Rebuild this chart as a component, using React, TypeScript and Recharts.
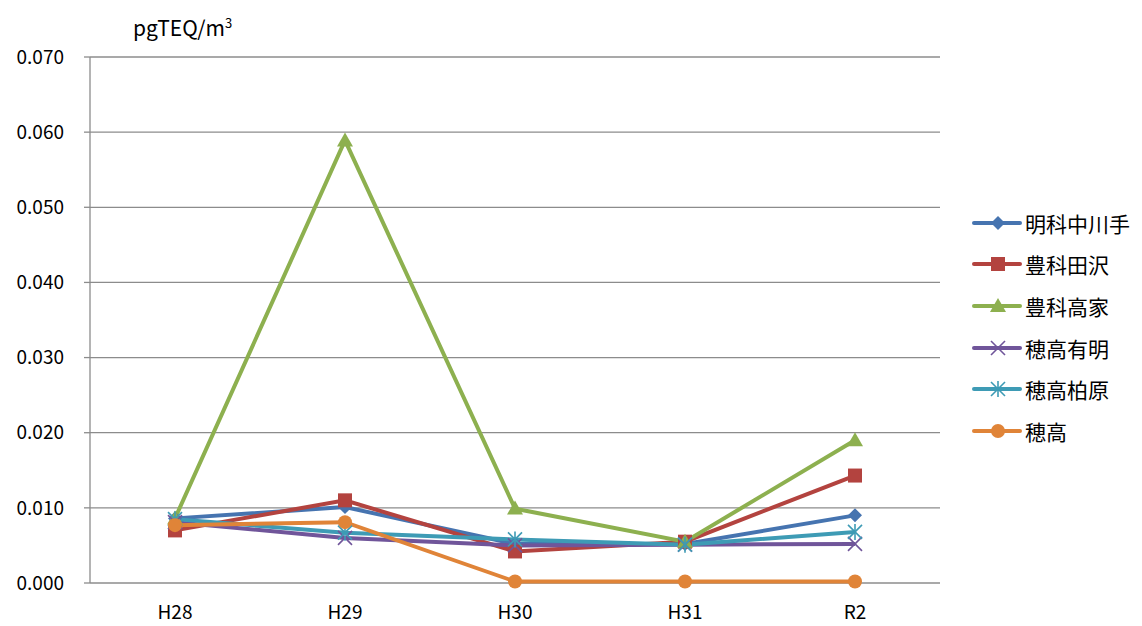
import React from "react";
import {
  LineChart,
  Line,
  XAxis,
  YAxis,
  CartesianGrid,
} from "recharts";

const YEARS = ["H28", "H29", "H30", "H31", "R2"];

const AKASHINA_NAKAGAWATE = [0.0086, 0.0101, 0.0052, 0.0052, 0.009];
const TOYOSHINA_TAZAWA = [0.007, 0.011, 0.0042, 0.0055, 0.0143];
const TOYOSHINA_TAKAIE = [0.0086, 0.0589, 0.0099, 0.0055, 0.019];
const HOTAKA_ARIAKE = [0.0081, 0.006, 0.005, 0.0051, 0.0052];
const HOTAKA_KASHIWABARA = [0.0085, 0.0067, 0.0058, 0.0051, 0.0068];
const HOTAKA = [0.0077, 0.0081, 0.0002, 0.0002, 0.0002];

const Y_TICKS = [0, 0.01, 0.02, 0.03, 0.04, 0.05, 0.06, 0.07];

type Shape = "diamond" | "square" | "triangle" | "x" | "star" | "circle";

const SERIES: { key: string; name: string; values: number[]; color: string; shape: Shape }[] = [
  { key: "s1", name: "明科中川手", values: AKASHINA_NAKAGAWATE, color: "#4674B0", shape: "diamond" },
  { key: "s2", name: "豊科田沢", values: TOYOSHINA_TAZAWA, color: "#B3433F", shape: "square" },
  { key: "s3", name: "豊科高家", values: TOYOSHINA_TAKAIE, color: "#8DB04F", shape: "triangle" },
  { key: "s4", name: "穂高有明", values: HOTAKA_ARIAKE, color: "#70559A", shape: "x" },
  { key: "s5", name: "穂高柏原", values: HOTAKA_KASHIWABARA, color: "#3E9BB5", shape: "star" },
  { key: "s6", name: "穂高", values: HOTAKA, color: "#E08438", shape: "circle" },
];

const data = YEARS.map((year, i) => {
  const row: Record<string, string | number> = { year };
  SERIES.forEach((s) => {
    row[s.key] = s.values[i];
  });
  return row;
});

const FONT = '"Noto Sans CJK JP", "Noto Sans", sans-serif';
const GRID = "#8c8c8c";

function marker(shape: Shape, color: string, cx: number, cy: number, key?: string) {
  switch (shape) {
    case "diamond":
      return (
        <polygon
          key={key}
          points={`${cx},${cy - 7} ${cx + 7},${cy} ${cx},${cy + 7} ${cx - 7},${cy}`}
          fill={color}
        />
      );
    case "square":
      return <rect key={key} x={cx - 7} y={cy - 7} width={14} height={14} fill={color} />;
    case "triangle":
      return (
        <polygon
          key={key}
          points={`${cx},${cy - 8} ${cx + 8},${cy + 6} ${cx - 8},${cy + 6}`}
          fill={color}
        />
      );
    case "x":
      return (
        <g key={key} stroke={color} strokeWidth={1.6}>
          <line x1={cx - 7} y1={cy - 7} x2={cx + 7} y2={cy + 7} />
          <line x1={cx - 7} y1={cy + 7} x2={cx + 7} y2={cy - 7} />
        </g>
      );
    case "star":
      return (
        <g key={key} stroke={color} strokeWidth={1.6}>
          <line x1={cx - 7} y1={cy - 7} x2={cx + 7} y2={cy + 7} />
          <line x1={cx - 7} y1={cy + 7} x2={cx + 7} y2={cy - 7} />
          <line x1={cx} y1={cy - 8} x2={cx} y2={cy + 8} />
        </g>
      );
    default:
      return <circle key={key} cx={cx} cy={cy} r={7} fill={color} />;
  }
}

export default function App() {
  return (
    <div style={{ position: "absolute", left: 0, top: 0, width: 1142, height: 626, background: "#fff", fontFamily: FONT }}>
      <LineChart
        width={1142}
        height={626}
        data={data}
        margin={{ top: 57, right: 202, bottom: 13, left: 10 }}
      >
        <CartesianGrid vertical={false} stroke={GRID} strokeWidth={1.3} />
        <XAxis
          xAxisId="frame"
          type="number"
          domain={[0, 5]}
          ticks={[0, 1, 2, 3, 4, 5]}
          height={0}
          tick={false}
          tickSize={7}
          tickLine={{ stroke: GRID, strokeWidth: 1.3 }}
          axisLine={{ stroke: GRID, strokeWidth: 1.3 }}
        />
        <XAxis
          dataKey="year"
          height={30}
          padding={{ left: 85, right: 85 }}
          axisLine={false}
          tickLine={false}
          tickMargin={17}
          tick={{ fill: "#000", fontSize: 19, fontFamily: FONT }}
        />
        <YAxis
          width={80}
          domain={[0, 0.07]}
          ticks={Y_TICKS}
          tickFormatter={(v: number) => v.toFixed(3)}
          tickSize={6}
          tickMargin={20}
          tickLine={{ stroke: GRID, strokeWidth: 1.3 }}
          axisLine={{ stroke: GRID, strokeWidth: 1.3 }}
          tick={{ fill: "#000", fontSize: 19, fontFamily: FONT }}
        />
        {SERIES.map((s) => (
          <Line
            key={s.key}
            dataKey={s.key}
            name={s.name}
            stroke={s.color}
            strokeWidth={4}
            isAnimationActive={false}
            dot={(p: any) => marker(s.shape, s.color, p.cx, p.cy, `${s.key}-${p.index}`)}
            activeDot={false}
          />
        ))}
      </LineChart>
      <div style={{ position: "absolute", left: 133, top: 8, fontSize: 21, color: "#000", lineHeight: "30px" }}>
        pgTEQ/m<sup style={{ fontSize: 13 }}>3</sup>
      </div>
      <div style={{ position: "absolute", left: 972, top: 202 }}>
        {SERIES.map((s) => (
          <div key={s.key} style={{ display: "flex", alignItems: "center", height: 41.6 }}>
            <svg width={50} height={20}>
              <line x1={2} y1={10} x2={48} y2={10} stroke={s.color} strokeWidth={4} strokeLinecap="round" />
              {marker(s.shape, s.color, 26, 10)}
            </svg>
            <span style={{ marginLeft: 3, fontSize: 21, color: "#000" }}>{s.name}</span>
          </div>
        ))}
      </div>
    </div>
  );
}
